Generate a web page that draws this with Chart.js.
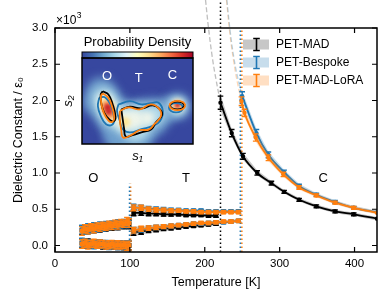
<!DOCTYPE html>
<html>
<head>
<meta charset="utf-8">
<script src="https://cdn.jsdelivr.net/npm/chart.js@4.4.1/dist/chart.umd.min.js"></script>
<style>
  html, body { margin: 0; padding: 0; background: #fff; }
  #wrap { position: relative; width: 389px; height: 302px; }
  #main { position: absolute; left: 0; top: 0; }
  #inset { position: absolute; left: 60px; top: 32px; }
</style>
</head>
<body>
<div id="wrap">
  <canvas id="main" width="389" height="302"></canvas>
  <canvas id="inset" width="155" height="134"></canvas>
</div>
<script>
// ---- data (dielectric constant in units of 10^3) ----
var tickX = [0, 100, 200, 300, 400];
var tickY = [0, 0.5, 1, 1.5, 2, 2.5, 3];

var tempO = [36, 40, 44, 48, 52, 56, 60, 64, 68, 72, 76, 80, 84, 88, 92, 96, 99];
var errO = [0.06, 0.055, 0.06, 0.05, 0.055, 0.05, 0.055, 0.05, 0.05, 0.055, 0.05, 0.05, 0.055, 0.05, 0.05, 0.055, 0.06];
var madO_up = [0.21, 0.23, 0.22, 0.24, 0.23, 0.25, 0.24, 0.26, 0.25, 0.27, 0.26, 0.28, 0.27, 0.29, 0.28, 0.30, 0.29];
var madO_lo = [0.03, 0.02, 0.03, 0.01, 0.02, 0.01, 0.02, 0.00, 0.01, 0.01, 0.00, 0.01, 0.00, 0.01, -0.01, 0.00, 0.00];
var bspO_up = [0.22, 0.21, 0.24, 0.23, 0.26, 0.24, 0.27, 0.25, 0.28, 0.27, 0.29, 0.28, 0.30, 0.29, 0.31, 0.30, 0.32];
var bspO_lo = [0.04, 0.03, 0.02, 0.03, 0.01, 0.02, 0.02, 0.01, 0.02, 0.00, 0.01, 0.01, 0.00, 0.01, 0.00, 0.01, 0.00];
var loraO_up = [0.20, 0.23, 0.22, 0.25, 0.23, 0.26, 0.25, 0.27, 0.26, 0.28, 0.27, 0.30, 0.28, 0.31, 0.30, 0.33, 0.31];
var loraO_lo = [0.02, 0.03, 0.01, 0.02, 0.03, 0.01, 0.02, 0.02, 0.00, 0.01, 0.02, 0.00, 0.01, 0.00, 0.01, -0.01, 0.00];

var tempT_mad = [105, 115, 125, 135, 145, 155, 165, 175, 185, 195, 205, 215];
var tempT = [105, 115, 125, 135, 145, 155, 165, 175, 185, 195, 205, 215, 225, 235, 245];
var errT = [0.04, 0.035, 0.03, 0.03, 0.025, 0.025, 0.02, 0.02, 0.02, 0.02, 0.02, 0.02, 0.02, 0.02, 0.02];
var madT_up = [0.45, 0.45, 0.44, 0.44, 0.43, 0.43, 0.43, 0.42, 0.42, 0.42, 0.41, 0.41];
var madT_lo = [0.18, 0.19, 0.21, 0.22, 0.23, 0.24, 0.25, 0.26, 0.27, 0.28, 0.29, 0.30];
var bspT_up = [0.53, 0.52, 0.51, 0.50, 0.50, 0.49, 0.49, 0.48, 0.48, 0.48, 0.47, 0.47, 0.47, 0.47, 0.47];
var bspT_lo = [0.21, 0.22, 0.24, 0.25, 0.26, 0.27, 0.28, 0.29, 0.30, 0.30, 0.31, 0.32, 0.32, 0.33, 0.34];
var loraT_up = [0.52, 0.52, 0.50, 0.49, 0.49, 0.48, 0.48, 0.47, 0.47, 0.46, 0.46, 0.46, 0.46, 0.46, 0.46];
var loraT_lo = [0.21, 0.23, 0.24, 0.25, 0.26, 0.27, 0.28, 0.29, 0.30, 0.31, 0.31, 0.32, 0.33, 0.33, 0.34];

var tempC_mad = [221, 236, 251, 270, 289, 306, 326, 349, 374, 399, 430];
var madC = [1.97, 1.55, 1.23, 1.00, 0.86, 0.74, 0.63, 0.54, 0.47, 0.43, 0.37];
var errC_mad = [0.09, 0.05, 0.04, 0.03, 0.025, 0.02, 0.02, 0.02, 0.02, 0.02, 0.02];
var tempC_bsp = [250, 269, 285, 306, 326, 349, 374, 399, 430];
var bspC = [2.06, 1.55, 1.25, 1.01, 0.82, 0.70, 0.60, 0.52, 0.46];
var errC_bsp = [0.06, 0.05, 0.04, 0.03, 0.025, 0.02, 0.02, 0.02, 0.02];
var tempC_lora = [249, 253, 268, 285, 305, 326, 349, 374, 399, 430];
var loraC = [1.99, 1.83, 1.49, 1.21, 0.98, 0.80, 0.69, 0.59, 0.52, 0.45];
var errC_lora = [0.06, 0.05, 0.05, 0.04, 0.03, 0.025, 0.02, 0.02, 0.02, 0.02];

// Curie-Weiss extrapolation above the transition (dashed)
var tempX_mad = [201, 205, 210, 215, 221];
var madX = [3.39, 3.0, 2.6, 2.29, 1.97];
var tempX_bsp = [229.5, 234, 239, 244.5, 250];
var bspX = [3.39, 2.95, 2.58, 2.29, 2.06];
var tempX_lora = [229, 233.5, 238.5, 243.5, 249];
var loraX = [3.39, 2.93, 2.55, 2.25, 1.99];

// transition temperatures
var tcMad = 221, tcBsp = 247.5, tcLora = 249.5, toBsp = 99.5, toLora = 101;

var legendNames = ['PET-MAD', 'PET-Bespoke', 'PET-MAD-LoRA'];
var phaseLabels = [['O', 51, 0.92], ['T', 175, 0.92], ['C', 358, 0.92]];

// inset: density blobs [s1, s2, radius] and contours [s1, s2]
var cmapStops = ['#37479f', '#4575b4', '#74add1', '#abd9e9', '#e0f3f8', '#ffffbf', '#fee090', '#fdae61', '#f46d43', '#d73027', '#a50026'];
var blobHalo = [[14, 42, 11], [22, 52, 15], [30, 38, 18], [36, 26, 16], [48, 22, 20], [65, 22, 22], [82, 28, 18], [60, 6, 18], [44, 8, 16], [96, 34, 11], [104, 37, 9], [111, 38, 13]];
var blobLight = [[25, 46, 11], [31, 36, 12], [36, 27, 10], [52, 24, 15], [68, 25, 15], [85, 30, 10], [62, 14, 12], [111, 38, 9]];
var blobWhite = [[27, 43, 8], [31, 35, 9], [35, 28, 7], [50, 24, 10], [62, 25, 9], [76, 26, 7], [111, 39, 6.5]];
var blobYellow = [[28, 40, 6], [31, 35, 6.5], [34, 29, 5], [50, 22, 5], [111, 39, 5]];
var blobOrange = [[29, 39, 4.5], [31, 34, 5], [33, 30, 3.5], [111, 39.5, 3.8]];
var blobRed = [[30, 37, 3.5], [31, 33, 3], [111, 39.5, 2.3]];

var contO_mad = [[24, 53.3], [30.7, 50], [35.7, 40], [39, 27.7], [37.3, 23.3], [32.3, 24.3], [25.7, 31.7], [22.3, 41.7], [21.7, 50]];
var contO_bsp = [[20, 47], [27, 47], [34, 38], [37.5, 25], [35, 19.5], [28, 20], [22, 28], [18.5, 38]];
var contO_lora = [[24, 51], [30, 47.5], [34.5, 39], [37.5, 27], [35.5, 22.5], [31, 23.5], [25.5, 31], [22.5, 41], [22, 48.5]];
var contT_mad = [[45.7, 35], [55.7, 37.7], [69, 36], [82.3, 39], [90.7, 35], [93, 29], [85.7, 21.7], [80.7, 15], [69, 11.7], [59, 9], [50.7, 7.7], [49, 15], [47.3, 25]];
var contT_bsp = [[42.3, 40], [55.7, 43.3], [69, 40], [82.3, 41.7], [89, 41.7], [94, 33.3], [90.7, 23.3], [82.3, 18.3], [69, 15], [55.7, 11.7], [47.3, 15], [44, 23.3], [40.7, 33.3]];
var contT_lora = [[44, 33.5], [54, 37], [67, 35], [80, 40], [89.7, 35.5], [91.7, 28], [84, 20], [77.5, 14.5], [67, 14], [58, 9.5], [48, 6.5], [45.5, 15], [44, 24]];
var contC_mad = [[119, 39], [116.6, 41.8], [110.7, 43], [104.8, 41.8], [102.4, 39], [104.8, 36.2], [110.7, 35], [116.6, 36.2]];
var contC_bsp = [[117.6, 36.7], [115.2, 40], [109.3, 41.4], [103.4, 40], [101, 36.7], [103.4, 33.4], [109.3, 32], [115.2, 33.4]];
var contC_lora = [[120.3, 39], [117.6, 42.3], [111, 43.7], [104.4, 42.3], [101.7, 39], [104.4, 35.7], [111, 34.3], [117.6, 35.7]];
var insetLabels = [['O', 29, 68], ['T', 66, 66], ['C', 105, 69]];

// ---- styling ----
Chart.defaults.font.family = '"Liberation Sans", Arial, sans-serif';
Chart.defaults.color = '#000';
var BLACK = '#000000', BLUE = '#1f77b4', ORANGE = '#ff7f0e';
var colors = [BLACK, BLUE, ORANGE];
var shades = ['rgba(0,0,0,0.22)', 'rgba(31,119,180,0.25)', 'rgba(255,127,14,0.25)'];

function pts(xs, ys) {
  return xs.map(function (x, i) { return {x: x, y: ys[i]}; });
}

function branch(xs, ys, err, k, extra) {
  var ds = {
    data: pts(xs, ys), err: err, shade: shades[k],
    showLine: true, borderColor: colors[k], backgroundColor: colors[k],
    borderWidth: 1.8, pointStyle: 'rect', pointRadius: 2, pointHoverRadius: 0, order: 3 - k
  };
  return Object.assign(ds, extra || {});
}

function vline(x, y0, y1, color, order) {
  return {
    data: [{x: x, y: y0}, {x: x, y: y1}], showLine: true, clip: false,
    borderColor: color, borderWidth: 1.5, borderDash: [1.5, 2.5], pointRadius: 0, order: order
  };
}

function dashed(xs, ys, color) {
  return {
    data: pts(xs, ys), showLine: true, clip: false, tension: 0.4,
    borderColor: color, borderWidth: 1.3, borderDash: [5, 2.5], pointRadius: 0, order: 5
  };
}

var cSmooth = {cubicInterpolationMode: 'monotone', borderWidth: 1.8, pointStyle: 'circle', pointRadius: 1.3, skipLast: true};

var datasets = [
  vline(tcMad, -0.09, 3.39, BLACK, 4),
  vline(tcBsp, -0.09, 3.0, BLUE, 4),
  vline(tcLora, -0.09, 3.0, ORANGE, 4),
  vline(toBsp, -0.09, 0.85, BLUE, 4),
  vline(toLora, -0.09, 0.85, ORANGE, 4),
  dashed(tempX_mad, madX, 'rgba(0,0,0,0.25)'),
  dashed(tempX_bsp, bspX, 'rgba(31,119,180,0.3)'),
  dashed(tempX_lora, loraX, 'rgba(255,127,14,0.3)'),

  branch(tempO, madO_up, errO, 0), branch(tempO, madO_lo, errO, 0),
  branch(tempT_mad, madT_up, errT, 0), branch(tempT_mad, madT_lo, errT, 0),
  branch(tempC_mad, madC, errC_mad, 0, cSmooth),

  branch(tempO, bspO_up, errO, 1), branch(tempO, bspO_lo, errO, 1),
  branch(tempT, bspT_up, errT, 1), branch(tempT, bspT_lo, errT, 1),
  branch(tempC_bsp, bspC, errC_bsp, 1, cSmooth),

  branch(tempO, loraO_up, errO, 2), branch(tempO, loraO_lo, errO, 2),
  branch(tempT, loraT_up, errT, 2), branch(tempT, loraT_lo, errT, 2),
  branch(tempC_lora, loraC, errC_lora, 2, cSmooth)
];

function clipArea(ctx, a) {
  ctx.beginPath();
  ctx.rect(a.left, a.top, a.right - a.left, a.bottom - a.top);
  ctx.clip();
}

var decor = {
  id: 'decor',
  beforeDatasetDraw: function (chart, args) {
    var ds = chart.data.datasets[args.index];
    if (!ds.err) return;
    var ctx = chart.ctx, xs = chart.scales.x, ys = chart.scales.y, d = ds.data;
    ctx.save();
    clipArea(ctx, chart.chartArea);
    ctx.fillStyle = ds.shade;
    ctx.beginPath();
    d.forEach(function (p, i) {
      var px = xs.getPixelForValue(p.x), py = ys.getPixelForValue(p.y + ds.err[i] * 1.2);
      if (i === 0) ctx.moveTo(px, py); else ctx.lineTo(px, py);
    });
    for (var i = d.length - 1; i >= 0; i--) {
      ctx.lineTo(xs.getPixelForValue(d[i].x), ys.getPixelForValue(d[i].y - ds.err[i] * 1.2));
    }
    ctx.closePath();
    ctx.fill();
    ctx.restore();
  },
  afterDatasetDraw: function (chart, args) {
    var ds = chart.data.datasets[args.index];
    if (!ds.err) return;
    var ctx = chart.ctx, xs = chart.scales.x, ys = chart.scales.y, d = ds.data;
    ctx.save();
    clipArea(ctx, chart.chartArea);
    ctx.strokeStyle = ds.borderColor;
    ctx.lineWidth = 1.4;
    d.forEach(function (p, i) {
      if (ds.skipLast && i === d.length - 1) return;
      var px = xs.getPixelForValue(p.x);
      var y0 = ys.getPixelForValue(p.y - ds.err[i]), y1 = ys.getPixelForValue(p.y + ds.err[i]);
      ctx.beginPath();
      ctx.moveTo(px, y0); ctx.lineTo(px, y1);
      ctx.moveTo(px - 2.8, y0); ctx.lineTo(px + 2.8, y0);
      ctx.moveTo(px - 2.8, y1); ctx.lineTo(px + 2.8, y1);
      ctx.stroke();
    });
    ctx.restore();
  },
  afterDraw: function (chart) {
    var ctx = chart.ctx, a = chart.chartArea, xs = chart.scales.x, ys = chart.scales.y;
    ctx.save();
    // frame and inward ticks
    ctx.strokeStyle = '#000';
    ctx.lineWidth = 1.5;
    ctx.strokeRect(a.left, a.top, a.right - a.left, a.bottom - a.top);
    ctx.lineWidth = 1.2;
    ctx.beginPath();
    tickX.forEach(function (v) {
      var px = xs.getPixelForValue(v);
      ctx.moveTo(px, a.bottom); ctx.lineTo(px, a.bottom - 5);
      ctx.moveTo(px, a.top); ctx.lineTo(px, a.top + 5);
    });
    tickY.forEach(function (v) {
      var py = ys.getPixelForValue(v);
      ctx.moveTo(a.left, py); ctx.lineTo(a.left + 5, py);
      ctx.moveTo(a.right, py); ctx.lineTo(a.right - 5, py);
    });
    ctx.stroke();

    // offset text x10^3
    ctx.fillStyle = '#000';
    ctx.textBaseline = 'alphabetic';
    ctx.textAlign = 'left';
    ctx.font = '12px "Liberation Sans", Arial, sans-serif';
    ctx.fillText('\u00d710', 56, 23.5);
    var w = ctx.measureText('\u00d710').width;
    ctx.font = '8.5px "Liberation Sans", Arial, sans-serif';
    ctx.fillText('3', 56 + w + 0.5, 17.5);

    // phase labels
    ctx.font = '13px "Liberation Sans", Arial, sans-serif';
    ctx.textAlign = 'center';
    ctx.textBaseline = 'middle';
    phaseLabels.forEach(function (l) {
      ctx.fillText(l[0], xs.getPixelForValue(l[1]), ys.getPixelForValue(l[2]));
    });

    // legend
    ctx.font = '12px "Liberation Sans", Arial, sans-serif';
    ctx.textAlign = 'left';
    legendNames.forEach(function (name, i) {
      var y = 44.5 + i * 18;
      ctx.fillStyle = shades[i];
      ctx.fillRect(243, y - 5, 26, 10);
      ctx.strokeStyle = colors[i];
      ctx.lineWidth = 1.6;
      ctx.beginPath();
      ctx.moveTo(256.5, y - 6); ctx.lineTo(256.5, y + 6);
      ctx.moveTo(253.2, y - 6); ctx.lineTo(259.8, y - 6);
      ctx.moveTo(253.2, y + 6); ctx.lineTo(259.8, y + 6);
      ctx.stroke();
      ctx.fillStyle = '#000';
      ctx.fillText(name, 276, y + 0.5);
    });
    ctx.restore();
  }
};

new Chart(document.getElementById('main'), {
  type: 'scatter',
  data: {datasets: datasets},
  options: {
    responsive: false,
    animation: false,
    devicePixelRatio: 1,
    layout: {padding: {top: 28, right: 12, left: 0, bottom: 0}},
    plugins: {legend: {display: false}, tooltip: {enabled: false}},
    scales: {
      x: {
        type: 'linear', min: 0, max: 430,
        afterBuildTicks: function (s) { s.ticks = tickX.map(function (v) { return {value: v}; }); },
        afterFit: function (s) { s.height = 50; },
        grid: {display: false, drawTicks: false},
        border: {display: false},
        ticks: {color: '#000', font: {size: 11.5}, padding: 5, maxRotation: 0},
        title: {display: true, text: 'Temperature [K]', color: '#000', font: {size: 12.5}, padding: {top: 0, bottom: 11.5}}
      },
      y: {
        type: 'linear', min: -0.09, max: 3.0,
        afterBuildTicks: function (s) { s.ticks = tickY.map(function (v) { return {value: v}; }); },
        afterFit: function (s) { s.width = 55; },
        grid: {display: false, drawTicks: false},
        border: {display: false},
        ticks: {color: '#000', font: {size: 11.5}, padding: 7, callback: function (v) { return v.toFixed(1); }},
        title: {display: true, text: 'Dielectric Constant / \u03b5\u2080', color: '#000', font: {size: 12.5}, padding: {top: 11.5, bottom: 0}}
      }
    }
  },
  plugins: [decor]
});

// ---- inset: probability density in (s1, s2) ----
function blob(list, color, blur) {
  return {
    type: 'bubble', blur: blur,
    data: list.map(function (b) { return {x: b[0], y: b[1], r: b[2]}; }),
    backgroundColor: color, borderWidth: 0, hoverRadius: 0
  };
}

function contour(list, color) {
  var d = list.map(function (p) { return {x: p[0], y: p[1]}; });
  d.push(d[0]);
  return {data: d, showLine: true, tension: 0.45, borderColor: color, borderWidth: 1.8, pointRadius: 0};
}

var insetDecor = {
  id: 'insetDecor',
  beforeDatasetsDraw: function (chart) {
    var a = chart.chartArea, ctx = chart.ctx;
    ctx.save();
    ctx.fillStyle = cmapStops[0];
    ctx.fillRect(a.left, a.top, a.right - a.left, a.bottom - a.top);
    ctx.restore();
  },
  beforeDatasetDraw: function (chart, args) {
    var ds = chart.data.datasets[args.index];
    chart.ctx.save();
    if (ds.blur) chart.ctx.filter = 'blur(' + ds.blur + 'px)';
  },
  afterDatasetDraw: function (chart) {
    chart.ctx.restore();
  },
  afterDraw: function (chart) {
    var a = chart.chartArea, ctx = chart.ctx, xs = chart.scales.x, ys = chart.scales.y;
    ctx.save();
    // colorbar
    var g = ctx.createLinearGradient(a.left, 0, a.right, 0);
    cmapStops.forEach(function (c, i) { g.addColorStop(i / (cmapStops.length - 1), c); });
    ctx.fillStyle = g;
    ctx.fillRect(a.left, a.top - 6, a.right - a.left, 6);
    ctx.strokeStyle = '#000';
    ctx.lineWidth = 1;
    ctx.strokeRect(a.left, a.top - 6, a.right - a.left, 6);
    ctx.lineWidth = 1.5;
    ctx.strokeRect(a.left, a.top, a.right - a.left, a.bottom - a.top);
    // title
    ctx.fillStyle = '#000';
    ctx.font = '13px "Liberation Sans", Arial, sans-serif';
    ctx.textAlign = 'center';
    ctx.textBaseline = 'middle';
    ctx.fillText('Probability Density', (a.left + a.right) / 2, 10.5);
    // basin labels
    ctx.fillStyle = '#fff';
    insetLabels.forEach(function (l) {
      ctx.fillText(l[0], xs.getPixelForValue(l[1]), ys.getPixelForValue(l[2]));
    });
    ctx.restore();
  }
};

new Chart(document.getElementById('inset'), {
  type: 'scatter',
  data: {
    datasets: [
      contour(contO_lora, ORANGE), contour(contT_lora, ORANGE), contour(contC_lora, ORANGE),
      contour(contO_mad, BLACK), contour(contT_mad, BLACK), contour(contC_mad, BLACK),
      contour(contO_bsp, BLUE), contour(contT_bsp, BLUE), contour(contC_bsp, BLUE),
      blob(blobRed, '#c8282c', 1.5),
      blob(blobOrange, '#f67e4b', 2),
      blob(blobYellow, '#fee594', 2),
      blob(blobWhite, '#eef4ea', 3),
      blob(blobLight, '#b4dbea', 4),
      blob(blobHalo, '#6e9fcd', 5)
    ]
  },
  options: {
    responsive: false,
    animation: false,
    devicePixelRatio: 1,
    layout: {padding: {top: 26, right: 5, left: 0, bottom: 0}},
    plugins: {legend: {display: false}, tooltip: {enabled: false}},
    scales: {
      x: {
        type: 'linear', min: 0, max: 129,
        afterFit: function (s) { s.height = 21; },
        ticks: {display: false}, grid: {display: false, drawTicks: false}, border: {display: false},
        title: {display: true, text: 's\u2081', color: '#000', font: {size: 13, style: 'italic'}, padding: {top: 0, bottom: 1}}
      },
      y: {
        type: 'linear', min: 0, max: 87,
        afterFit: function (s) { s.width = 21; },
        ticks: {display: false}, grid: {display: false, drawTicks: false}, border: {display: false},
        title: {display: true, text: 's\u2082', color: '#000', font: {size: 13, style: 'italic'}, padding: {top: 0, bottom: 0}}
      }
    }
  },
  plugins: [insetDecor]
});
</script>
</body>
</html>
